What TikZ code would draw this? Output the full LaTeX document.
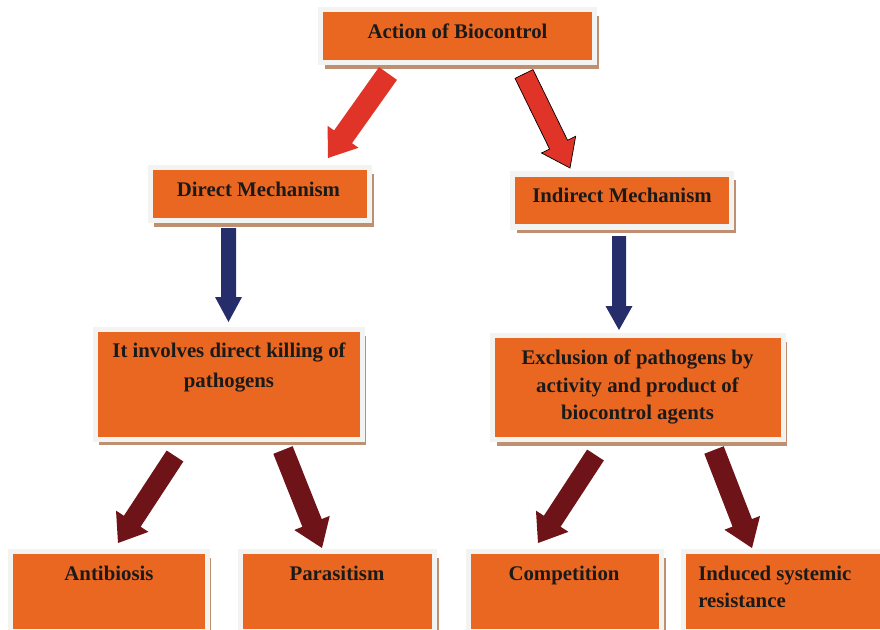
\documentclass[tikz,border=0pt]{standalone}
\usepackage{fontspec}
\setmainfont{Liberation Serif}
\usetikzlibrary{calc,shadows}
\definecolor{boxorange}{HTML}{E96721}
\definecolor{framegray}{HTML}{F3F3F1}
\definecolor{shadowbrown}{HTML}{BE8F70}
\definecolor{arrowred}{HTML}{E03428}
\definecolor{arrownavy}{HTML}{262D6B}
\definecolor{arrowdark}{HTML}{6E1418}
\definecolor{txt}{HTML}{1A1A1A}
\newcommand{\pbox}[5]{\node[pbox, minimum width=#4*0.025cm, minimum height=#5*0.025cm] (#1) at (#2,#3) {};}
\newcommand{\blockarrow}[6]{%
  \path ($(#2)!#5*0.025cm!(#1)$) coordinate (bb);
  \fill[#6] ($(#1)!#3*0.025cm!90:(#2)$) -- ($(bb)!#3*0.025cm!90:(#2)$) -- ($(bb)!#4*0.025cm!90:(#2)$) -- (#2) -- ($(bb)!#4*0.025cm!-90:(#2)$) -- ($(bb)!#3*0.025cm!-90:(#2)$) -- ($(#1)!#3*0.025cm!-90:(#2)$) -- cycle;}
\tikzset{
  pbox/.style={rectangle, inner sep=0pt, fill=boxorange, draw=framegray, line width=0.125cm,
    drop shadow={shadow xshift=0.11cm, shadow yshift=-0.15cm, fill=shadowbrown, opacity=1}},
  lbl/.style={inner sep=0pt, text=txt, font=\fontsize{14.8}{20}\selectfont\bfseries},
  redarrow/.style={fill=arrowred},
  redarrowout/.style={fill=arrowred, draw=black, line width=0.5pt},
  navyarrow/.style={fill=arrownavy},
  darkarrow/.style={fill=arrowdark},
}
\begin{document}
\begin{tikzpicture}[x=0.025cm, y=-0.025cm]
\useasboundingbox (0,0) rectangle (880,630);
% boxes
\pbox{top}{457.5}{36.5}{274}{53}
\pbox{direct}{259.75}{194}{219.5}{53}
\pbox{indirect}{622}{200.5}{219}{53}
\pbox{kill}{228.5}{384.25}{267}{109.5}
\pbox{excl}{637.75}{387.5}{290.5}{104}
\pbox{anti}{108.75}{591.25}{196.5}{79.5}
\pbox{para}{337.5}{591.25}{194}{79.5}
\pbox{comp}{564.75}{591.25}{193.5}{79.5}
\pbox{isr}{790}{591.25}{214}{79.5}
% labels
\node[lbl, anchor=base] (tTop) at (457.5,39) {Action of Biocontrol};
\node[lbl, anchor=base] (tDirect) at (258.5,196) {Direct Mechanism};
\node[lbl, anchor=base] (tIndirect) at (622,202) {Indirect Mechanism};
\node[lbl, anchor=base, align=center, font=\fontsize{14.8}{21.3}\selectfont\bfseries] (tKill) at (229,387) {It involves direct killing of\\pathogens};
\node[lbl, anchor=base, align=center, font=\fontsize{14.8}{19.4}\selectfont\bfseries] (tExcl) at (637.5,419.5) {Exclusion of pathogens by\\activity and product of\\biocontrol agents};
\node[lbl, anchor=base] (tAnti) at (109,580.5) {Antibiosis};
\node[lbl, anchor=base] (tPara) at (337,580.5) {Parasitism};
\node[lbl, anchor=base] (tComp) at (564,580) {Competition};
\node[lbl, anchor=base west, align=left, font=\fontsize{14.8}{19.6}\selectfont\bfseries] (tIsr) at (698,607.7) {Induced systemic\\resistance};
% arrow end points
\coordinate (r1s) at (388,73.5);  \coordinate (r1t) at (328,158);
\coordinate (r2s) at (524,74);    \coordinate (r2t) at (570,168);
\coordinate (b1s) at (228.5,228); \coordinate (b1t) at (228.5,322);
\coordinate (b2s) at (619,236);   \coordinate (b2t) at (619,330);
\coordinate (d1s) at (175,456);   \coordinate (d1t) at (118,543);
\coordinate (d2s) at (283,450);   \coordinate (d2t) at (322,548);
\coordinate (d3s) at (595.5,455); \coordinate (d3t) at (538,543);
\coordinate (d4s) at (714,450);   \coordinate (d4t) at (752,548);
% arrows
\blockarrow{r1s}{r1t}{11}{19}{26}{redarrow}
\blockarrow{r2s}{r2t}{10}{19}{26}{redarrowout}
\blockarrow{b1s}{b1t}{7.5}{13.5}{25}{navyarrow}
\blockarrow{b2s}{b2t}{7}{13.5}{24}{navyarrow}
\blockarrow{d1s}{d1t}{10}{19.4}{26}{darkarrow}
\blockarrow{d2s}{d2t}{10.4}{19.1}{27}{darkarrow}
\blockarrow{d3s}{d3t}{10}{19.4}{26}{darkarrow}
\blockarrow{d4s}{d4t}{10.4}{19.1}{27}{darkarrow}
\end{tikzpicture}
\end{document}
